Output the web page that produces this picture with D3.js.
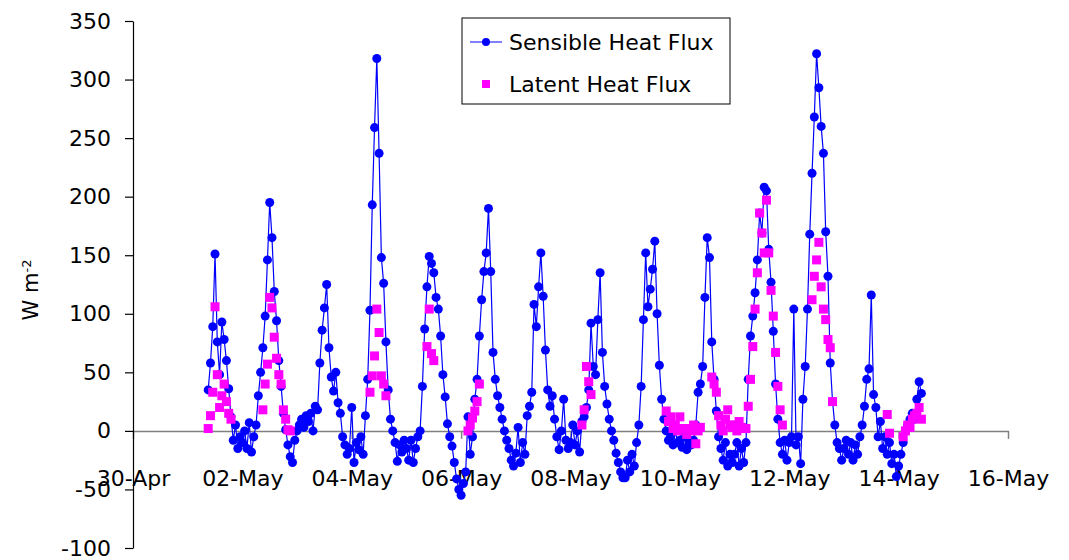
<!DOCTYPE html>
<html lang="en">
<head>
  <meta charset="UTF-8">
  <title>Heat Flux</title>
  <script src="https://d3js.org/d3.v7.min.js"></script>
  <style>
    body {
      margin: 0;
      background: #fff;
      font-family: "Comic Sans MS", "DejaVu Sans", sans-serif;
    }
    svg text {
      font-family: "Comic Sans MS", "DejaVu Sans", sans-serif;
      fill: #000;
    }
  </style>
</head>
<body>
  <div id="chart"></div>
  <script>
    // hourly values, first row = 01-May 00:00 ... 23:00
    const sensible = [
      null, null, null, null, null, null, null, null, null, 35, 58, 89, 151, 76, 48, 93, 78, 60, 36, 12, -8, 5, -15, -5,
      -10, 0, -15, 7, -18, -5, 5, 30, 50, 71, 98, 146, 195, 165, 119, 94, 60, 38, 15, 1, -12, -22, -27, -8,
      0, 5, 10, 3, 13, 8, 15, 0, 21, 18, 58, 86, 105, 125, 71, 46, 34, 50, 24, 15, -5, -12, -20, -15,
      20, -27, -10, -16, -5, -20, 13, 44, 103, 193, 259, 318, 237, 148, 126, 76, 35, 10, 0, -10, -26, -12, -18, -8,
      -15, -25, -8, -27, -15, -5, 0, 38, 87, 123, 149, 143, 135, 114, 104, 81, 48, 29, 6, -5, -13, -27, -41, -50,
      -55, -45, -35, 12, -20, -5, 27, 44, 81, 112, 136, 152, 190, 136, 67, 44, 30, 20, 10, 0, -8, -15, -25, -30,
      -19, 3, -27, -10, -20, 13, 21, 33, 108, 89, 123, 152, 115, 69, 35, 21, 30, 10, -5, -16, 0, 27, -8, -15,
      -10, 5, -12, 0, -18, 8, 12, 20, 35, 92, 55, 48, 95, 135, 67, 38, 23, 10, 0, -8, -19, -27, -35, -40,
      -40, -25, -35, -20, -30, -10, 5, 38, 95, 152, 106, 121, 138, 162, 100, 56, 27, 10, 0, -8, -5, -12, 0, -10,
      -8, -14, -5, -16, -10, -12, -8, 5, 33, 40, 55, 114, 165, 148, 76, 44, 17, -5, -15, -25, -10, -30, -20, -27,
      -20, -10, -30, -15, -27, -10, 44, 81, 98, 118, 146, 186, 169, 208, 205, 155, 127, 85, 40, 10, -10, -20, -8, -25,
      -10, -5, 104, -12, -5, -28, 27, 55, 104, 168, 220, 268, 322, 293, 260, 237, 170, 132, 58, 25, 5, -10, -15, -25,
      -15, -8, -20, -10, -25, -12, -20, -5, 5, 21, 44, 53, 116, 31, 20, -5, 8, -15, -5, -20, -10, -28, -20, -39,
      -30, -20, -10, 0, 5, 10, 15, 10, 27, 42, 32
    ];

    const latent = [
      null, null, null, null, null, null, null, null, null, 2, 13, 33, 106, 48, 20, 30, 40, 25, 15, 10, null, null, null, null,
      null, null, null, null, null, null, null, null, null, 18, 40, 57, 114, 105, 80, 62, 48, 40, 18, 10, 1, 0, null, null,
      null, null, null, null, null, null, null, null, null, null, null, null, null, null, null, null, null, null, null, null, null, null, null, null,
      null, null, null, null, null, null, null, null, 33, 47, 64, 104, 84, 47, 40, 30, null, null, null, null, null, null, null, null,
      null, null, null, null, null, null, null, null, null, 72, 104, 66, 60, null, null, null, null, null, null, null, null, null, null, null,
      null, null, null, 0, 5, 11, 17, 25, 40, null, null, null, null, null, null, null, null, null, null, null, null, null, null, null,
      null, null, null, null, null, null, null, null, null, null, null, null, null, null, null, null, null, null, null, null, null, null, null, null,
      null, null, null, null, null, 5, 18, 55, 42, 31, null, null, null, null, null, null, null, null, null, null, null, null, null, null,
      null, null, null, null, null, null, null, null, null, null, null, null, null, null, null, null, null, null, 17, 8, 12, 2, 5, 0,
      12, 2, 2, -3, 2, 0, 5, -11, 0, 3, null, null, null, null, 46, 40, 33, 13, 5, 0, 10, 18, 5, 3,
      5, 0, 8, 3, 2, 2, 21, 44, 72, 104, 135, 186, 169, 152, 197, 152, 120, 98, 67, 38, 18, 5, null, null,
      null, null, null, null, null, null, null, null, null, null, 112, 132, 146, 161, 123, 104, 95, 78, 71, 25, null, null, null, null,
      null, null, null, null, null, null, null, null, null, null, null, null, null, null, null, null, null, null, null, 14, -2, null, null, null,
      null, null, -5, 0, 5, 3, 10, 13, 15, 20, 10
    ];

    const xTickLabels = ["30-Apr", "02-May", "04-May", "06-May", "08-May", "10-May", "12-May", "14-May", "16-May"];
    const yTicks = [-100, -50, 0, 50, 100, 150, 200, 250, 300, 350];
    const seriesNames = ["Sensible Heat Flux", "Latent Heat Flux"];

    const width = 1069;
    const height = 560;
    const parseDay = d3.timeParse("%d-%b-%Y");
    const tickDates = xTickLabels.map(s => parseDay(s + "-2000"));

    const toPoints = arr => arr.map((v, i) => ({
      t: new Date(2000, 4, 1, i),
      v: v
    }));
    const sens = toPoints(sensible);
    const lat = toPoints(latent).filter(d => d.v != null);

    const svg = d3.select("#chart")
      .append("svg")
      .attr("width", width)
      .attr("height", height);

    const x = d3.scaleTime()
      .domain([tickDates[0], tickDates[tickDates.length - 1]])
      .range([133, 1008]);

    const y = d3.scaleLinear()
      .domain([-100, 350])
      .range([548, 21]);

    // x axis sits on zero
    const xAxis = svg.append("g")
      .attr("transform", `translate(0,${y(0)})`)
      .call(d3.axisBottom(x)
        .tickValues(tickDates)
        .tickFormat((d, i) => xTickLabels[i])
        .tickSize(8)
        .tickSizeOuter(0)
        .tickPadding(32));
    xAxis.select(".domain").attr("stroke", "#808080").attr("stroke-width", 1.5);
    xAxis.selectAll(".tick line").attr("stroke", "#808080").attr("stroke-width", 1.5);
    xAxis.selectAll("text").style("font-size", "22px");

    const yAxis = svg.append("g")
      .attr("transform", `translate(${x(tickDates[0])},0)`)
      .call(d3.axisLeft(y)
        .tickValues(yTicks)
        .tickFormat(d => String(d))
        .tickSize(8)
        .tickSizeOuter(0)
        .tickPadding(14));
    yAxis.select(".domain").attr("stroke", "#000").attr("stroke-width", 1.2);
    yAxis.selectAll(".tick line").attr("stroke", "#000").attr("stroke-width", 1.2);
    yAxis.selectAll("text").style("font-size", "22px");

    // y label
    const ylab = svg.append("text")
      .attr("transform", "translate(38,290) rotate(-90)")
      .attr("text-anchor", "middle")
      .style("font-size", "21px");
    ylab.append("tspan").text("W m");
    ylab.append("tspan").attr("dy", "-0.55em").style("font-size", "13px").text("-2");

    // sensible heat flux: line + dots
    const line = d3.line()
      .defined(d => d.v != null)
      .x(d => x(d.t))
      .y(d => y(d.v));

    svg.append("path")
      .datum(sens)
      .attr("fill", "none")
      .attr("stroke", "#0000ff")
      .attr("stroke-width", 1.2)
      .attr("d", line);

    svg.selectAll(".sdot")
      .data(sens.filter(d => d.v != null))
      .enter()
      .append("circle")
      .attr("class", "sdot")
      .attr("cx", d => x(d.t))
      .attr("cy", d => y(d.v))
      .attr("r", 4.5)
      .attr("fill", "#0000ff");

    // latent heat flux: squares only
    svg.selectAll(".ldot")
      .data(lat)
      .enter()
      .append("rect")
      .attr("class", "ldot")
      .attr("x", d => x(d.t) - 4.5)
      .attr("y", d => y(d.v) - 4.5)
      .attr("width", 9)
      .attr("height", 9)
      .attr("fill", "#ff00ff");

    // legend
    const legend = svg.append("g");
    legend.append("rect")
      .attr("x", 462)
      .attr("y", 18)
      .attr("width", 268)
      .attr("height", 86)
      .attr("fill", "#fff")
      .attr("stroke", "#000")
      .attr("stroke-width", 1);
    legend.append("line")
      .attr("x1", 470).attr("x2", 502)
      .attr("y1", 42).attr("y2", 42)
      .attr("stroke", "#0000ff");
    legend.append("circle")
      .attr("cx", 486).attr("cy", 42).attr("r", 4)
      .attr("fill", "#0000ff");
    legend.append("rect")
      .attr("x", 482).attr("y", 80)
      .attr("width", 8).attr("height", 8)
      .attr("fill", "#ff00ff");
    legend.selectAll(".ltext")
      .data(seriesNames)
      .enter()
      .append("text")
      .attr("class", "ltext")
      .attr("x", 509)
      .attr("y", (d, i) => 42 + i * 42)
      .attr("dy", "0.35em")
      .style("font-size", "22px")
      .text(d => d);
  </script>
</body>
</html>
